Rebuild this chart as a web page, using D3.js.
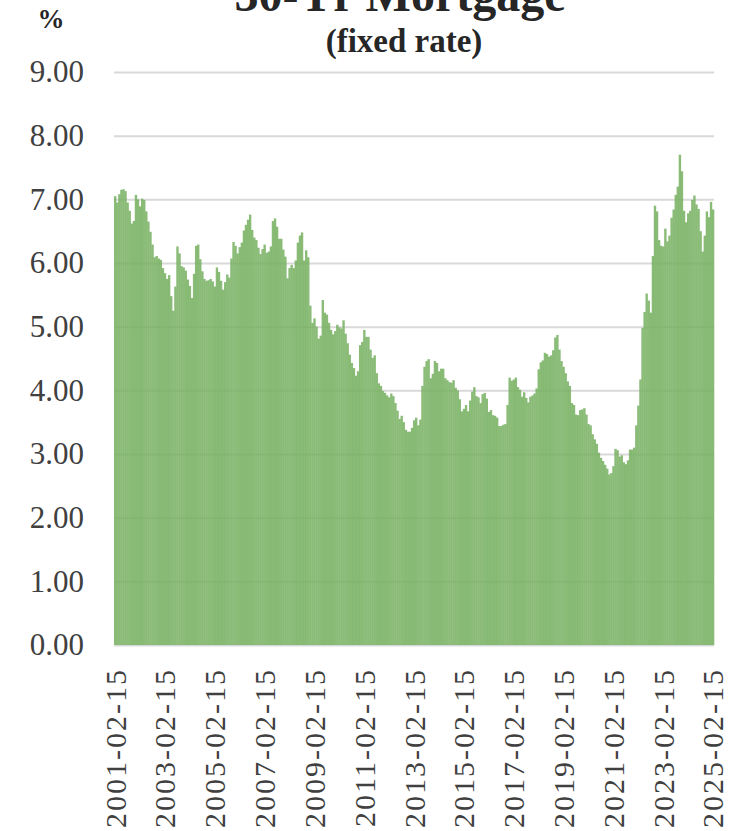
<!DOCTYPE html>
<html>
<head>
<meta charset="utf-8">
<script src="https://cdn.jsdelivr.net/npm/d3@7"></script>
<style>
	html, body { margin: 0; padding: 0; background: #fff; }
	svg { display: block; }
	svg text { font-family: "Liberation Serif", "DejaVu Serif", serif; }
</style>
</head>
<body>
<svg id="chart"></svg>
<script>
	'use strict';

	// 30-yr fixed mortgage rate, monthly, starting Feb 2001 (one row per year)
	var firstYear = 2001,
		firstMonth = 2;

	var rates = [
		7.05, 6.95, 7.08, 7.15, 7.16, 7.13, 6.95, 6.82, 6.62, 6.66, 7.07,
		7.00, 6.89, 7.01, 6.99, 6.81, 6.65, 6.49, 6.29, 6.09, 6.11, 6.07, 6.05,
		5.92, 5.84, 5.75, 5.81, 5.48, 5.25, 5.63, 6.26, 6.15, 5.95, 5.93, 5.88,
		5.74, 5.64, 5.45, 5.83, 6.27, 6.29, 6.06, 5.87, 5.75, 5.72, 5.73, 5.75,
		5.71, 5.63, 5.93, 5.86, 5.72, 5.58, 5.70, 5.82, 5.77, 6.07, 6.33, 6.27,
		6.15, 6.25, 6.32, 6.51, 6.60, 6.68, 6.76, 6.52, 6.40, 6.36, 6.24, 6.14,
		6.22, 6.29, 6.16, 6.18, 6.26, 6.66, 6.70, 6.57, 6.38, 6.38, 6.21, 6.10,
		5.76, 5.92, 5.97, 5.92, 6.04, 6.32, 6.43, 6.48, 6.04, 6.20, 6.09, 5.33,
		5.06, 5.13, 5.00, 4.81, 4.86, 5.42, 5.22, 5.19, 5.06, 4.95, 4.88, 4.93,
		5.03, 4.99, 4.97, 5.10, 4.89, 4.74, 4.56, 4.43, 4.35, 4.23, 4.30, 4.71,
		4.76, 4.95, 4.84, 4.84, 4.64, 4.51, 4.55, 4.27, 4.11, 4.07, 3.99, 3.96,
		3.92, 3.89, 3.95, 3.91, 3.80, 3.68, 3.55, 3.60, 3.50, 3.38, 3.35, 3.35,
		3.41, 3.53, 3.57, 3.45, 3.54, 4.07, 4.37, 4.46, 4.49, 4.19, 4.26, 4.46,
		4.43, 4.30, 4.34, 4.34, 4.19, 4.16, 4.13, 4.12, 4.16, 4.04, 4.00, 3.86,
		3.67, 3.71, 3.77, 3.67, 3.84, 3.98, 4.05, 3.91, 3.89, 3.80, 3.94, 3.96,
		3.87, 3.66, 3.69, 3.61, 3.60, 3.57, 3.44, 3.44, 3.46, 3.47, 3.77, 4.20,
		4.15, 4.17, 4.20, 4.05, 4.01, 3.90, 3.97, 3.88, 3.81, 3.90, 3.92, 3.95,
		4.03, 4.33, 4.44, 4.47, 4.59, 4.57, 4.53, 4.55, 4.63, 4.83, 4.87, 4.64,
		4.46, 4.37, 4.27, 4.14, 4.07, 3.80, 3.77, 3.62, 3.61, 3.69, 3.70, 3.72,
		3.62, 3.47, 3.45, 3.31, 3.23, 3.16, 3.02, 2.94, 2.89, 2.83, 2.77, 2.68,
		2.70, 2.81, 3.08, 3.06, 2.96, 2.98, 2.87, 2.84, 2.90, 3.07, 3.07, 3.10,
		3.45, 3.76, 4.17, 4.98, 5.23, 5.52, 5.41, 5.22, 6.11, 6.90, 6.81, 6.36,
		6.27, 6.26, 6.54, 6.34, 6.43, 6.71, 6.84, 7.07, 7.20, 7.70, 7.44, 6.82,
		6.64, 6.78, 6.82, 6.99, 7.06, 6.92, 6.85, 6.50, 6.18, 6.43, 6.81, 6.72,
		6.96, 6.84
	];

	var tickLabels = [
		'2001-02-15', '2003-02-15', '2005-02-15', '2007-02-15', '2009-02-15',
		'2011-02-15', '2013-02-15', '2015-02-15', '2017-02-15', '2019-02-15',
		'2021-02-15', '2023-02-15', '2025-02-15'
	];

	var yTicks = [0, 1, 2, 3, 4, 5, 6, 7, 8, 9];

	var width = 744,
		height = 831,
		margin = { top: 72, right: 30, bottom: 186, left: 114 },
		innerW = width - margin.left - margin.right,
		innerH = height - margin.top - margin.bottom;

	// category for every month: yyyy-mm-15
	var months = rates.map(function(d, i) {
		var m = firstMonth - 1 + i,
			yr = firstYear + Math.floor(m / 12),
			mo = (m % 12) + 1;
		return yr + '-' + (mo < 10 ? '0' : '') + mo + '-15';
	});

	var svg = d3.select('#chart')
		.attr('width', width)
		.attr('height', height);

	var x = d3.scaleBand()
		.domain(months)
		.range([0, innerW])
		.padding(0);

	var y = d3.scaleLinear()
		.domain([0, 9])
		.range([innerH, 0]);

	var g = svg.append('g')
		.attr('transform', 'translate(' + margin.left + ',' + margin.top + ')');

	// gridlines + y labels
	var yAxis = d3.axisLeft(y)
		.tickValues(yTicks)
		.tickFormat(d3.format('.2f'))
		.tickSize(-innerW)
		.tickPadding(30);

	g.append('g')
		.attr('class', 'axis axis--y')
		.call(yAxis)
		.call(function(sel) {
			sel.attr('font-family', null).attr('font-size', null);
			sel.select('.domain').remove();
			sel.selectAll('.tick line')
				.attr('stroke', '#d9d9d9')
				.attr('stroke-width', 2);
			sel.selectAll('.tick text')
				.attr('fill', '#404040')
				.style('font-size', '31px');
		});

	// bars, no gap like excel
	g.append('g')
		.selectAll('rect')
		.data(rates)
		.enter()
		.append('rect')
		.attr('x', function(d, i) { return x(months[i]); })
		.attr('width', x.bandwidth() + 0.3)
		.attr('y', function(d) { return y(d); })
		.attr('height', function(d) { return innerH - y(d); })
		.attr('fill', '#76b060')
		.attr('fill-opacity', 0.85);

	// x labels, rotated
	var xAxis = d3.axisBottom(x)
		.tickValues(tickLabels)
		.tickSize(0)
		.tickPadding(0);

	g.append('g')
		.attr('class', 'axis axis--x')
		.attr('transform', 'translate(0,' + innerH + ')')
		.call(xAxis)
		.call(function(sel) {
			sel.attr('font-family', null).attr('font-size', null);
			sel.select('.domain').remove();
			sel.selectAll('.tick text')
				.attr('fill', '#404040')
				.style('font-size', '30px')
				.style('letter-spacing', '2px')
				.attr('text-anchor', 'end')
				.attr('y', 0)
				.attr('dy', '0.35em')
				.attr('transform', 'translate(0,23) rotate(-90)');
		});

	// titles
	svg.append('text')
		.attr('x', 400)
		.attr('y', 11)
		.attr('text-anchor', 'middle')
		.attr('fill', '#262626')
		.style('font-size', '48px')
		.style('font-weight', 'bold')
		.text('30-Yr Mortgage');

	svg.append('text')
		.attr('x', 404)
		.attr('y', 52)
		.attr('text-anchor', 'middle')
		.attr('fill', '#262626')
		.style('font-size', '33px')
		.style('font-weight', 'bold')
		.text('(fixed rate)');

	svg.append('text')
		.attr('x', 51)
		.attr('y', 28)
		.attr('text-anchor', 'middle')
		.attr('fill', '#262626')
		.style('font-size', '27px')
		.style('font-weight', 'bold')
		.text('%');
</script>
</body>
</html>
